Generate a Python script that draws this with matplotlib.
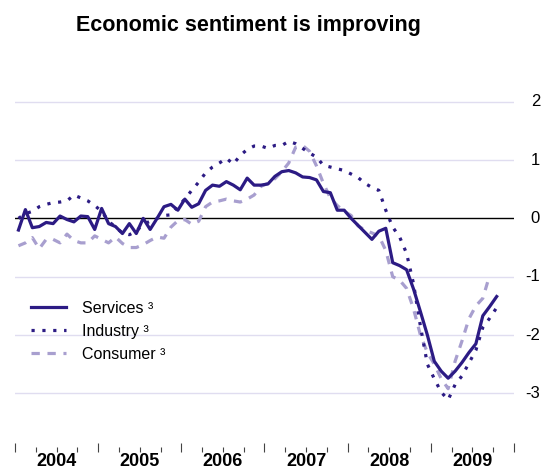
import numpy as np
import matplotlib
matplotlib.use("Agg")
import matplotlib.pyplot as plt
from matplotlib.transforms import blended_transform_factory

plt.rcParams['font.family'] = ['Liberation Sans', 'DejaVu Sans']

# monthly values, Jan 2004 onwards
services = [
    -0.20, 0.15, -0.16, -0.14, -0.07, -0.09, 0.04, -0.02, -0.06, 0.04, 0.03, -0.19,   # 2004
    0.17, -0.09, -0.14, -0.26, -0.09, -0.26, 0.00, -0.19, 0.00, 0.20, 0.24, 0.14,     # 2005
    0.33, 0.19, 0.25, 0.48, 0.57, 0.55, 0.63, 0.57, 0.49, 0.69, 0.57, 0.57,           # 2006
    0.59, 0.72, 0.80, 0.82, 0.78, 0.71, 0.70, 0.66, 0.46, 0.44, 0.14, 0.14,           # 2007
    0.00, -0.12, -0.24, -0.36, -0.22, -0.17, -0.76, -0.81, -0.88, -1.21, -1.60, -2.00,  # 2008
    -2.45, -2.62, -2.74, -2.62, -2.47, -2.30, -2.15, -1.67, -1.51, -1.34,             # 2009
]
industry = [
    0.00, 0.08, 0.12, 0.20, 0.24, 0.27, 0.28, 0.30, 0.40, 0.35, 0.30, 0.22,
    0.12, -0.05, -0.15, -0.25, -0.28, -0.22, -0.10, -0.05, 0.00, 0.05, 0.06, 0.20,
    0.33, 0.48, 0.62, 0.78, 0.88, 0.95, 1.03, 0.93, 1.08, 1.18, 1.24, 1.24,
    1.20, 1.25, 1.25, 1.32, 1.28, 1.20, 1.12, 1.05, 0.91, 0.88, 0.85, 0.82,
    0.76, 0.70, 0.60, 0.53, 0.48, 0.14, -0.15, -0.32, -0.60, -1.12, -1.85, -2.50,
    -2.75, -2.98, -3.11, -2.85, -2.70, -2.48, -2.26, -1.87, -1.71, -1.53,
]
consumer = [
    -0.47, -0.42, -0.33, -0.52, -0.36, -0.36, -0.42, -0.27, -0.38, -0.42, -0.42, -0.30,
    -0.36, -0.42, -0.32, -0.43, -0.50, -0.50, -0.45, -0.38, -0.32, -0.34, -0.15, -0.04,
    -0.02, -0.10, -0.05, 0.20, 0.28, 0.30, 0.33, 0.30, 0.28, 0.33, 0.40, 0.55,
    0.60, 0.68, 0.80, 0.95, 1.22, 1.25, 1.15, 0.90, 0.60, 0.35, 0.22, 0.12,
    0.05, -0.13, -0.20, -0.25, -0.30, -0.55, -1.00, -1.06, -1.20, -1.55, -2.00, -2.30,
    -2.50, -2.75, -2.92, -2.45, -2.10, -1.72, -1.50, -1.37, -0.97,
]
years = [2004, 2005, 2006, 2007, 2008, 2009]
y_ticks = [2, 1, 0, -1, -2, -3]
labels = ['Services \u00b3', 'Industry \u00b3', 'Consumer \u00b3']

dark = '#2c1b84'
light = '#a89fcf'

def months(n):
    return 2004 + (np.arange(n) + 0.5) / 12.0

W, H = 549, 470
fig = plt.figure(figsize=(W / 100, H / 100), dpi=100)
ax = fig.add_axes([15 / W, 1 - 451.7 / H, 499 / W, (451.7 - 84.2) / H])
ax.set_xlim(2004, 2010)
ax.set_ylim(-4.0, 2.3)

for v in y_ticks:
    if v == 0:
        ax.axhline(0, color='black', lw=1.0, zorder=1)
    else:
        ax.axhline(v, color='#e0ddf0', lw=1.0, zorder=0)

lw = 2.3
ax.plot(months(len(consumer)), consumer, color=light, lw=lw, dashes=(2.6, 2.4), label=labels[2], zorder=2)
ax.plot(months(len(industry)), industry, color=dark, lw=lw, dashes=(1.0, 2.4), label=labels[1], zorder=3)
ax.plot(months(len(services)), services, color=dark, lw=lw, label=labels[0], zorder=4)

for s in ax.spines.values():
    s.set_visible(False)
ax.set_yticks([])
ax.set_xticks(range(2004, 2011))
ax.set_xticks([y + q / 4 for y in range(2004, 2010) for q in (1, 2, 3)], minor=True)
ax.tick_params(axis='x', which='major', direction='in', length=6.5, width=0.8, color='#444444', labelbottom=False)
ax.tick_params(axis='x', which='minor', direction='in', length=3.6, width=0.8, color='#444444')

tr = blended_transform_factory(ax.transAxes, ax.transData)
for v in y_ticks:
    ax.text((540 - 15) / 499, v, str(v), transform=tr, ha='right', va='center', fontsize=12)

trx = ax.get_xaxis_transform()
for yr in years:
    ax.text(yr + 0.5, -0.028, str(yr), transform=trx, ha='center', va='center',
            fontsize=13, fontweight='bold')

h, l = ax.get_legend_handles_labels()
order = [2, 1, 0]
leg = ax.legend([h[i] for i in order], [l[i] for i in order], loc='upper left',
                bbox_to_anchor=(31 / W, 1 - 301 / H), bbox_transform=fig.transFigure,
                frameon=False, fontsize=11.5, handlelength=2.2, handletextpad=1.0,
                labelspacing=0.5, borderpad=0, borderaxespad=0)

fig.text(248 / W, 1 - 25 / H, 'Economic sentiment is improving', ha='center', va='center',
         fontsize=15.5, fontweight='bold')

fig.savefig('out.png', dpi=100)
